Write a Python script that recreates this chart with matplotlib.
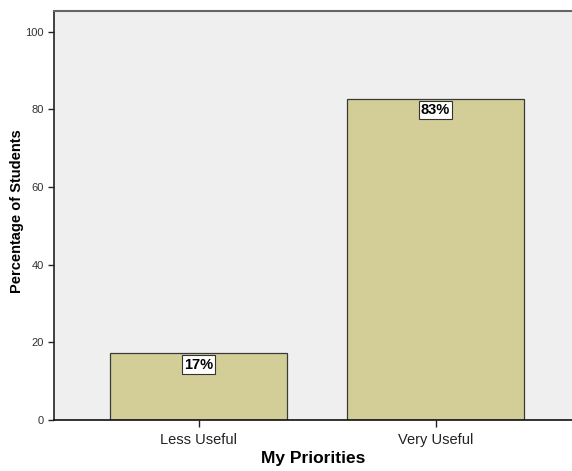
import matplotlib
matplotlib.use("Agg")
import matplotlib.pyplot as plt

categories = ["Less Useful", "Very Useful"]
percentages = [17.2, 82.8]
bar_labels = ["17%", "83%"]

plt.rcParams["font.family"] = ["Liberation Sans", "DejaVu Sans"]

fig = plt.figure(figsize=(5.72, 4.71), dpi=100)
ax = fig.add_axes([0.0944, 0.108, 0.9056, 0.869])
ax.set_facecolor("#efefef")

x = range(len(categories))
bars = ax.bar(x, percentages, width=0.747, color="#d3ce97",
              edgecolor="#3a3a3a", linewidth=0.9)

for xi, val, lab in zip(x, percentages, bar_labels):
    ax.annotate(lab, (xi, val), xytext=(0, -3), textcoords="offset points",
                ha="center", va="top", fontsize=10.5, fontweight="bold",
                bbox=dict(boxstyle="square,pad=0.15", fc="white",
                          ec="#333333", lw=0.8))

ax.set_xlim(-0.61, 1.576)
ax.set_ylim(0, 105.4)
ax.set_yticks([0, 20, 40, 60, 80, 100])
ax.set_xticks(list(x))
ax.set_xticklabels(categories, fontsize=10.5)
ax.tick_params(axis="y", labelsize=8, length=4, width=1, colors="#222222",
               labelcolor="#333333")
ax.tick_params(axis="x", length=5, width=1, pad=4, colors="#222222")

ax.spines["right"].set_visible(False)
ax.spines["top"].set_color("#666666")
ax.spines["top"].set_linewidth(1.5)
ax.spines["left"].set_color("#222222")
ax.spines["bottom"].set_color("#111111")
ax.spines["left"].set_linewidth(1.2)
ax.spines["bottom"].set_linewidth(1.2)

ax.set_xlabel("My Priorities", fontsize=12.5, fontweight="bold", labelpad=3)
ax.set_ylabel("Percentage of Students", fontsize=10.5, fontweight="bold")
ax.yaxis.set_label_coords(-0.058, 0.511)

fig.savefig("out.png", dpi=100)
